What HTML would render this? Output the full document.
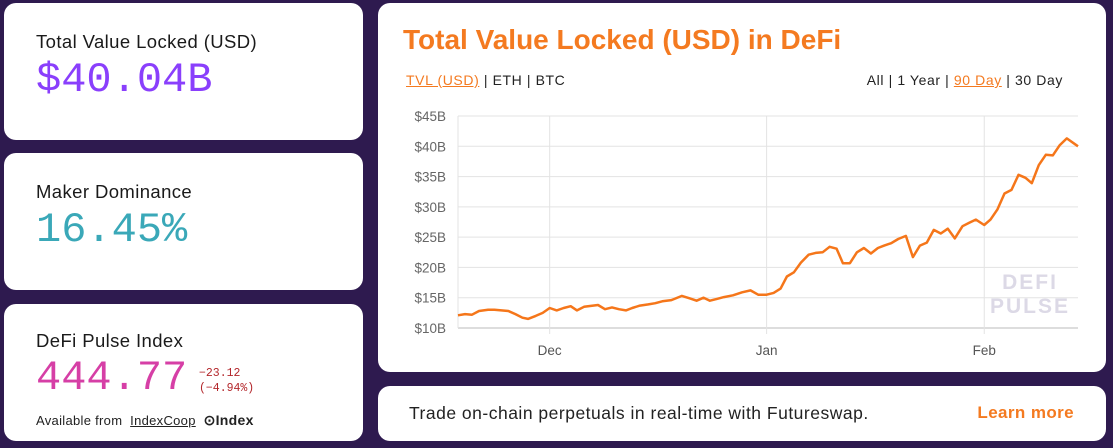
<!DOCTYPE html>
<html><head><meta charset="utf-8"><style>
*{box-sizing:border-box;margin:0;padding:0}
body{width:1113px;height:448px;background:#2e1a4f;font-family:"Liberation Sans",sans-serif;position:relative;overflow:hidden}
.card{position:absolute;background:#fff;border-radius:12px}
.lbl{position:absolute;left:32px;font-size:18.5px;color:#1a1a1a;letter-spacing:0.4px}
.big{position:absolute;left:32px;font-family:"Liberation Mono",monospace;font-size:42px}
a{color:inherit}
</style></head><body>
<div class="card" style="left:4px;top:3px;width:359px;height:137px">
<div class="lbl" style="top:28px">Total Value Locked (USD)</div>
<div class="big" style="top:53px;color:#8a3ffc">$40.04B</div></div>
<div class="card" style="left:4px;top:153px;width:359px;height:137px">
<div class="lbl" style="top:28px">Maker Dominance</div>
<div class="big" style="top:53px;color:#3aa8b8">16.45%</div></div>
<div class="card" style="left:4px;top:304px;width:359px;height:137px">
<div class="lbl" style="top:26px">DeFi Pulse Index</div>
<div class="big" style="top:50px;color:#d63fa6">444.77</div>
<div style="position:absolute;left:195px;top:62px;font-family:'Liberation Mono',monospace;font-size:11.5px;color:#b3262b;line-height:15px">−23.12<br>(−4.94%)</div>
<div style="position:absolute;left:32px;top:108px;font-size:13px;color:#222;letter-spacing:0.3px">Available from&nbsp; <a href="#">IndexCoop</a>&nbsp; <b style="font-size:14px">⊙Index</b></div></div>

<div class="card" style="left:378px;top:3px;width:728px;height:369px">
<div style="position:absolute;left:25px;top:21px;font-size:28px;font-weight:bold;color:#f47a20">Total Value Locked (USD) in DeFi</div>
<div style="position:absolute;left:28px;top:69px;font-size:14px;letter-spacing:0.6px;color:#222"><a href="#" style="color:#f47a20">TVL (USD)</a> | <span>ETH</span> | <span>BTC</span></div>
<div style="position:absolute;right:43px;top:69px;font-size:14px;letter-spacing:0.6px;color:#222"><span>All</span> | <span>1 Year</span> | <a href="#" style="color:#f47a20">90 Day</a> | <span>30 Day</span></div>
</div>
<svg id="chart" width="1113" height="448" style="position:absolute;left:0;top:0"></svg>

<div class="card" style="left:378px;top:386px;width:728px;height:55px">
<div style="position:absolute;left:31px;top:17px;font-size:17.5px;letter-spacing:0.5px;color:#222">Trade on-chain perpetuals in real-time with Futureswap.</div>
<a href="#" style="position:absolute;right:32px;top:17px;font-size:17px;font-weight:bold;color:#f47a20;text-decoration:none;letter-spacing:0.4px">Learn more</a></div>
<script>
const days=[0,1,2,3,4.3,5.2,7.2,8.2,9.2,10,11.1,12.1,13.1,14.1,15.1,16.1,17,18,20,21,22,23,24,24.9,26,27.2,28.2,29.2,30.5,32,33.1,34.1,35.1,36,37,38,39.3,40.6,41.8,42.9,44.1,45.1,46.1,47,48,49,50.1,51.1,52.1,53.1,54.1,55,56,57,58,59,60,60.9,61.9,62.9,64,65,66,67,68,69,70,71,72.1,73.1,74,75.2,76.1,77.1,78.1,79.1,80.1,81.1,82,83,84,85,86,87,88.6];
const values=[12.1,12.3,12.2,12.8,13.0,13.0,12.8,12.3,11.7,11.5,12.0,12.5,13.3,12.9,13.3,13.6,12.9,13.5,13.8,13.1,13.4,13.1,12.9,13.3,13.7,13.9,14.1,14.4,14.6,15.3,14.9,14.5,15.0,14.5,14.8,15.1,15.4,15.9,16.2,15.5,15.5,15.8,16.5,18.5,19.2,20.8,22.1,22.4,22.5,23.4,23.1,20.7,20.7,22.5,23.2,22.3,23.2,23.6,24.0,24.7,25.2,21.7,23.6,24.1,26.2,25.6,26.4,24.8,26.8,27.4,27.9,27.0,27.9,29.6,32.2,32.8,35.3,34.8,33.9,36.9,38.6,38.5,40.2,41.3,40.0];
const yTicks=[10,15,20,25,30,35,40,45];
const xTickDays=[13.1,44.1,75.2];
const xTickLabels=["Dec","Jan","Feb"];
const NS="http://www.w3.org/2000/svg",svg=document.getElementById('chart');
const X0=458,X1=1078,Y0=328,Y1=116;
const xs=d=>X0+d*(X1-X0)/88.6;
const ys=v=>Y0-(v-10)*(Y0-Y1)/35;
function mk(t,a){const e=document.createElementNS(NS,t);for(const k in a)e.setAttribute(k,a[k]);svg.appendChild(e);return e;}
yTicks.forEach(v=>{
 const l=mk('line',{x1:X0,x2:X1,y1:ys(v),y2:ys(v),stroke:v===10?'#bbb':'#e3e3e3','stroke-width':1});
 
 
 const t=mk('text',{x:X0-12,y:ys(v)+5,'text-anchor':'end','font-size':13.5,fill:'#666','font-family':'Liberation Sans, sans-serif'});
 t.textContent='$'+v+'B';
 
 
});
const lv=mk('line',{x1:X0,x2:X0,y1:Y1,y2:Y0,stroke:'#e3e3e3'});


xTickDays.forEach((d,i)=>{
 const l=mk('line',{x1:xs(d),x2:xs(d),y1:Y1,y2:Y0+6,stroke:'#e3e3e3'});
 
 
 const t=mk('text',{x:xs(d),y:355,'text-anchor':'middle','font-size':13.5,fill:'#555','font-family':'Liberation Sans, sans-serif'});
 t.textContent=xTickLabels[i];
 
 
});
const wm=mk('text',{x:1030,y:289,'text-anchor':'middle','font-size':21,'font-weight':'bold',fill:'#dcd9e6','font-family':'Liberation Sans, sans-serif','letter-spacing':2});
wm.textContent='DEFI';


const wm2=mk('text',{x:1030,y:313,'text-anchor':'middle','font-size':21,'font-weight':'bold',fill:'#dcd9e6','font-family':'Liberation Sans, sans-serif','letter-spacing':2});
wm2.textContent='PULSE';


const p=mk('polyline',{points:days.map((d,i)=>xs(d).toFixed(1)+','+ys(values[i]).toFixed(1)).join(' '),fill:'none',stroke:'#f5761a','stroke-width':2.5,'stroke-linejoin':'round'});


</script>
</body></html>
